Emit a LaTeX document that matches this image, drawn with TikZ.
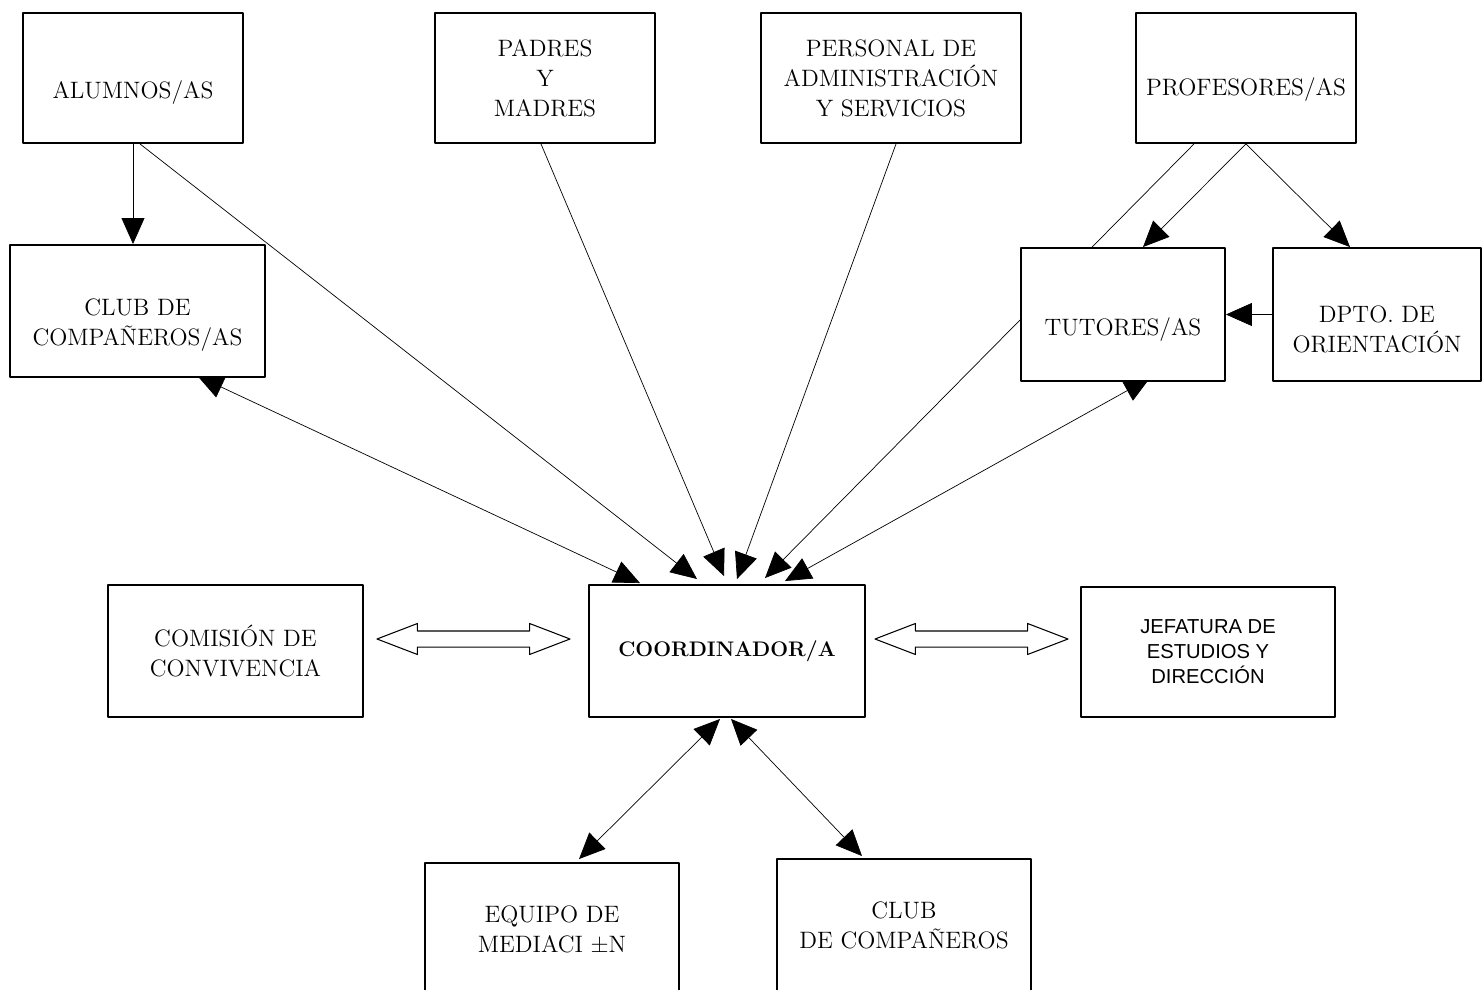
\documentclass[tikz,border=0pt]{standalone}
\usepackage{fontspec}
\newfontfamily\arialfont{Liberation Sans}
\usetikzlibrary{arrows.meta,calc,backgrounds,shapes.arrows}
\tikzset{
	box/.style={draw, line width=1.1pt, fill=white, align=center, inner sep=0pt},
	conn/.style={line width=0.6pt},
	dblarrow/.style={draw, double arrow, line width=0.6pt, inner xsep=0pt, inner ysep=0.15cm,
		double arrow head extend=0.15cm, double arrow tip angle=42, minimum height=3.86cm}
}
\begin{document}
\begin{tikzpicture}[x=0.02cm, y=-0.02cm, font=\fontsize{13.5}{17}\selectfont, line join=round, >={Triangle[length=0.52cm,width=0.46cm]}]
	\useasboundingbox (0,0) rectangle (1482,990);
	\node[box, minimum width=4.4cm, minimum height=2.6cm, label={[yshift=-0.3cm]center:ALUMNOS/AS}] (alumnos) at (133,78) {};
	\node[box, minimum width=4.4cm, minimum height=2.6cm] (padres) at (545,78) {PADRES\\Y\\MADRES};
	\node[box, minimum width=5.2cm, minimum height=2.6cm] (personal) at (891,78) {PERSONAL DE\\ADMINISTRACIÓN\\Y SERVICIOS};
	\node[box, minimum width=4.4cm, minimum height=2.6cm, label={[yshift=-0.24cm]center:PROFESORES/AS}] (profesores) at (1246,78) {};
	\node[box, minimum width=5.1cm, minimum height=2.64cm, label={[yshift=-0.28cm,align=center]center:CLUB DE\\COMPAÑEROS/AS}] (club) at (137.5,311) {};
	\node[box, minimum width=4.08cm, minimum height=2.66cm, label={[yshift=-0.3cm]center:TUTORES/AS}] (tutores) at (1123,314.5) {};
	\node[box, minimum width=4.16cm, minimum height=2.66cm, label={[yshift=-0.3cm,align=center]center:DPTO. DE\\ORIENTACIÓN}] (dpto) at (1377,314.5) {};
	\node[box, minimum width=5.1cm, minimum height=2.64cm] (comision) at (235.5,651) {COMISIÓN DE\\CONVIVENCIA};
	\node[box, minimum width=5.52cm, minimum height=2.64cm, font=\fontsize{12}{15}\selectfont\bfseries] (coord) at (727,651) {COORDINADOR/A};
	\node[box, minimum width=5.08cm, minimum height=2.6cm, font=\fontsize{11.5}{14.2}\selectfont\arialfont] (jefatura) at (1208,652) {JEFATURA DE\\ESTUDIOS Y\\DIRECCIÓN};
	\node[box, minimum width=5.08cm, minimum height=2.64cm] (equipo) at (552,929) {EQUIPO DE\\MEDIACI ±N};
	\node[box, minimum width=5.08cm, minimum height=2.64cm] (club2) at (904,925) {CLUB\\DE COMPAÑEROS};
	\node[dblarrow] (dbl1) at (473.5,639) {};
	\node[dblarrow] (dbl2) at (971.5,639) {};
	\begin{scope}[on background layer, conn]
		\draw[->] (alumnos.south) -- (alumnos.south |- club.north);
		\draw[->] ($(alumnos.south)+(7,0)$) -- ($(coord.north)+(-30,-5)$);
		\draw[->] ($(padres.south)+(-4,0)$) -- ($(coord.north)+(-3,-8)$);
		\draw[->] ($(personal.south)+(5,0)$) -- ($(coord.north)+(10,-5)$);
		\draw[->] ($(profesores.south)+(-52,0)$) -- ($(coord.north)+(38,-6)$);
		\draw[->] (profesores.south) -- ($(tutores.north)+(20,0)$);
		\draw[->] (profesores.south) -- ($(dpto.north)+(-27,0)$);
		\draw[->] (dpto.west) -- (tutores.east);
		\draw[<->] ($(club.south)+(60,-2)$) -- ($(coord.north)+(-87,-1)$);
		\draw[<->] ($(tutores.south)+(27,-4)$) -- ($(coord.north)+(58,-3)$);
		\draw[<->] ($(coord.south)+(-7,1)$) -- ($(equipo.north)+(27,-3)$);
		\draw[<->] ($(coord.south)+(4,1)$) -- ($(club2.north)+(-42,-2)$);
	\end{scope}
\end{tikzpicture}
\end{document}
